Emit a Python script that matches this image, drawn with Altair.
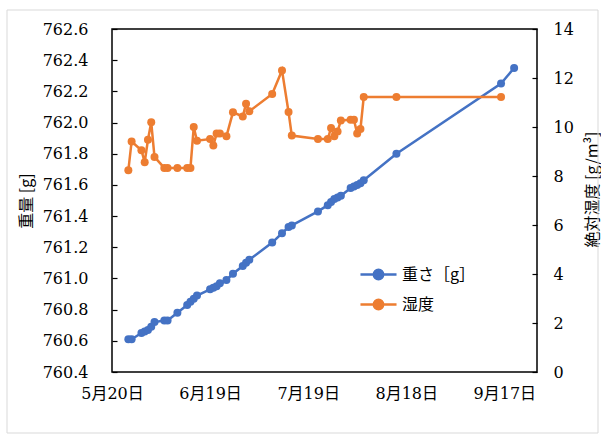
import altair as alt
import pandas as pd

# Sampling dates and readings
hum_dates = [
    "2022/05/25", "2022/05/26", "2022/05/29", "2022/05/30", "2022/05/31",
    "2022/06/01", "2022/06/02", "2022/06/05", "2022/06/06", "2022/06/09",
    "2022/06/12", "2022/06/13", "2022/06/14", "2022/06/15", "2022/06/19",
    "2022/06/20", "2022/06/21", "2022/06/22", "2022/06/24", "2022/06/26",
    "2022/06/29", "2022/06/30", "2022/07/01", "2022/07/08", "2022/07/11",
    "2022/07/13", "2022/07/14", "2022/07/22", "2022/07/25", "2022/07/26",
    "2022/07/27", "2022/07/28", "2022/07/29", "2022/08/01", "2022/08/02",
    "2022/08/03", "2022/08/04", "2022/08/05", "2022/08/15", "2022/09/16",
]
humidity = [
    8.23, 9.41, 9.05, 8.56, 9.48, 10.19, 8.78, 8.33, 8.33, 8.33,
    8.33, 8.33, 10.00, 9.44, 9.51, 9.25, 9.73, 9.73, 9.62, 10.60,
    10.43, 10.95, 10.64, 11.35, 12.31, 10.61, 9.65, 9.51, 9.51, 9.96,
    9.62, 9.82, 10.27, 10.30, 10.30, 9.73, 9.92, 11.22, 11.22, 11.22,
]

weight_dates = [
    "2022/05/25", "2022/05/26", "2022/05/29", "2022/05/30", "2022/05/31",
    "2022/06/01", "2022/06/02", "2022/06/05", "2022/06/06", "2022/06/09",
    "2022/06/12", "2022/06/13", "2022/06/14", "2022/06/15", "2022/06/19",
    "2022/06/20", "2022/06/21", "2022/06/22", "2022/06/24", "2022/06/26",
    "2022/06/29", "2022/06/30", "2022/07/01", "2022/07/08", "2022/07/11",
    "2022/07/13", "2022/07/14", "2022/07/22", "2022/07/25", "2022/07/26",
    "2022/07/27", "2022/07/28", "2022/07/29", "2022/08/01", "2022/08/02",
    "2022/08/03", "2022/08/04", "2022/08/05", "2022/08/15", "2022/09/16",
    "2022/09/20",
]
weight = [
    760.61, 760.61, 760.65, 760.66, 760.67, 760.69, 760.72, 760.73, 760.73, 760.78,
    760.83, 760.85, 760.87, 760.89, 760.93, 760.94, 760.95, 760.97, 760.99, 761.03,
    761.08, 761.10, 761.12, 761.23, 761.29, 761.33, 761.34, 761.43, 761.47, 761.49,
    761.51, 761.52, 761.53, 761.58, 761.59, 761.60, 761.61, 761.63, 761.80, 762.25,
    762.35,
]

weight_ticks = [760.4, 760.6, 760.8, 761.0, 761.2, 761.4, 761.6, 761.8, 762.0, 762.2, 762.4, 762.6]
humidity_ticks = [0, 2, 4, 6, 8, 10, 12, 14]

LBL_W = "重さ［g］"
LBL_H = "湿度"
BLUE = "#4472C4"
ORANGE = "#ED7D31"

W, H = 425, 343
NUM_FONT = "'DejaVu Serif', 'Liberation Serif', 'Noto Sans CJK JP'"
CJK_FONT = "'Noto Sans CJK JP'"

wdf = pd.DataFrame({"date": weight_dates, "weight": weight, "series": LBL_W})
hdf = pd.DataFrame({"date": hum_dates, "humidity": humidity, "series": LBL_H})

x_scale = alt.Scale(domain=[alt.DateTime(year=2022, month=5, date=20),
                            alt.DateTime(year=2022, month=9, date=27)])
x_axis = alt.Axis(
    values=[alt.DateTime(year=2022, month=5, date=20),
            alt.DateTime(year=2022, month=6, date=19),
            alt.DateTime(year=2022, month=7, date=19),
            alt.DateTime(year=2022, month=8, date=18),
            alt.DateTime(year=2022, month=9, date=17)],
    format="%-m月%-d日", title=None, ticks=False, tickSize=0, domain=False,
    grid=False, labelPadding=13, labelFont=NUM_FONT, labelFontSize=16,
    labelColor="black", labelFlush=False,
)
x_enc = alt.X("date:T", scale=x_scale, axis=x_axis)

w_scale = alt.Scale(domain=[760.4, 762.6], nice=False, zero=False)
h_scale = alt.Scale(domain=[0, 14], nice=False)

color_scale = alt.Scale(domain=[LBL_W, LBL_H], range=[BLUE, ORANGE])
legend = alt.Legend(
    title=None, orient="none", legendX=247, legendY=226,
    symbolType="M-1,0H1M-0.26,0A0.26,0.26,0,1,1,0.26,0A0.26,0.26,0,1,1,-0.26,0Z",
    symbolSize=1300, symbolStrokeWidth=2.5, rowPadding=0,
    labelFont=CJK_FONT, labelFontSize=16, labelColor="black", labelOffset=4,
)

point_def = alt.OverlayMarkDef(filled=True, size=64, opacity=1)

# Axes sit 5px inside the frame so their ticks point into the plot
weight_line = alt.Chart(wdf).mark_line(point=point_def, strokeWidth=2.5).encode(
    x=x_enc,
    y=alt.Y("weight:Q", scale=w_scale, axis=alt.Axis(
        orient="left", values=weight_ticks, format=".1f", ticks=True, tickSize=5,
        tickColor="black", tickWidth=1.2, offset=-5,
        domain=False, grid=False, labelPadding=24, labelFont=NUM_FONT,
        labelFontSize=16, labelColor="black",
        title="重量 [g]", titleFont=CJK_FONT, titleFontSize=16, titleFontWeight="normal",
        titleColor="black", titleAngle=-90, titleX=-91, titleY=H / 2,
        titleAlign="center", titleBaseline="middle")),
    color=alt.Color("series:N", scale=color_scale, legend=legend),
)

hum_line = alt.Chart(hdf).mark_line(point=point_def, strokeWidth=2.5).encode(
    x=x_enc,
    y=alt.Y("humidity:Q", scale=h_scale, axis=alt.Axis(
        orient="right", values=humidity_ticks, format="d", ticks=True, tickSize=5,
        tickColor="black", tickWidth=1.2, offset=-5,
        domain=False, grid=False, labelPadding=16, labelFont=NUM_FONT,
        labelFontSize=16, labelColor="black",
        title="絶対湿度 [g/m³]", titleFont=CJK_FONT, titleFontSize=16,
        titleFontWeight="normal", titleColor="black", titleAngle=-90,
        titleX=60, titleY=160, titleAlign="center", titleBaseline="middle")),
    color=alt.Color("series:N", scale=color_scale, legend=legend),
)

# light chart-area border around everything
border = alt.Chart(pd.DataFrame({"k": [0]})).mark_rect(
    fill=None, stroke="#D9D9D9", strokeWidth=1
).encode(x=alt.value(-105), x2=alt.value(W + 61), y=alt.value(-19), y2=alt.value(H + 61))

chart = alt.layer(
    weight_line,
    hum_line,
    border,
).resolve_scale(y="independent").properties(
    width=W, height=H,
    autosize=alt.AutoSizeParams(type="none"),
    padding={"left": 112, "top": 29, "right": 64, "bottom": 64},
    background="white",
).configure_view(stroke="black", strokeWidth=1.5)

chart.save("out.html", embed_options={"renderer": "svg", "actions": False})
